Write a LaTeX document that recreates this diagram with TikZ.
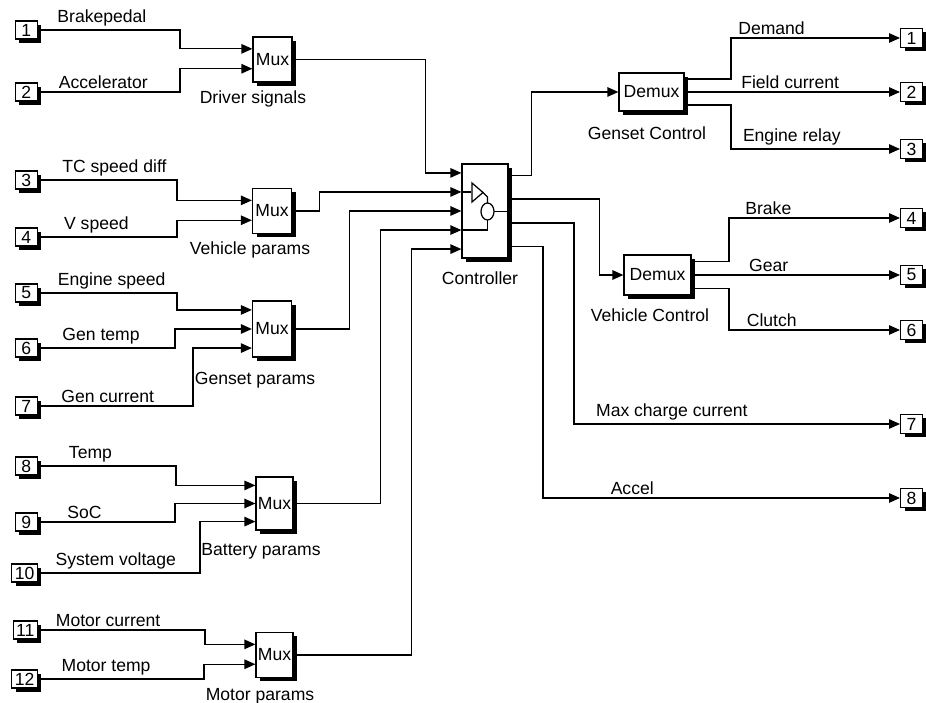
\documentclass[tikz,border=0pt]{standalone}
\usepackage{fontspec}
\setmainfont{Liberation Sans}
\usetikzlibrary{arrows.meta,calc,positioning,shadows}

\tikzset{
  sig/.style={line width=0.7pt},
  sigarrow/.style={sig, -{Triangle[length=2.2mm,width=1.9mm]}},
  blk/.style={draw, line width=0.7pt, fill=white, inner sep=0pt,
    drop shadow={shadow xshift=0.8mm, shadow yshift=-0.8mm, opacity=1, fill=black}},
  inport/.style={blk, anchor=east, minimum width=4.4mm, minimum height=3.6mm,
    inner xsep=0.6mm, font=\fontsize{10}{11}\selectfont},
  outport/.style={blk, anchor=west, minimum width=4.4mm, minimum height=3.8mm,
    inner xsep=0.6mm, font=\fontsize{10}{11}\selectfont},
  muxbox/.style={blk, minimum width=7.8mm, font=\fontsize{10}{12}\selectfont},
  demuxbox/.style={blk, minimum height=7.6mm, font=\fontsize{10}{12}\selectfont},
  blklabel/.style={inner sep=0pt, font=\fontsize{10}{12}\selectfont},
  siglabel/.style={above, inner sep=0.6mm, font=\fontsize{10}{12}\selectfont}
}

\begin{document}
\begin{tikzpicture}[x=0.2mm, y=-0.2mm]
  \useasboundingbox (0,0) rectangle (926,703);
  % input ports
  \foreach \n/\y in {1/30,2/92,3/180,4/237,5/293,6/348,7/406,8/466,9/522,10/573,11/630,12/679}
    \node[inport] (in\n) at (38,\y) {\n};
  % output ports
  \foreach \n/\y in {1/38,2/92,3/149,4/218,5/275,6/330,7/424,8/498}
    \node[outport] (out\n) at (900,\y) {\n};

  % mux blocks
  \node[muxbox, minimum height=9mm] (muxD) at (272.5,59.5) {Mux};
  \node[muxbox, minimum height=9mm] (muxV) at (272,211) {Mux};
  \node[muxbox, minimum height=11.2mm] (muxG) at (272,329) {Mux};
  \node[muxbox, minimum width=7.4mm, minimum height=10.6mm] (muxB) at (274.5,503.5) {Mux};
  \node[muxbox, minimum width=7.4mm, minimum height=9mm] (muxM) at (274.5,655) {Mux};
  \node[blklabel, below=1.6mm of muxD, xshift=-3.9mm] (lDriver) {Driver signals};
  \node[blklabel, below=1.5mm of muxV, xshift=-4.4mm] (lVehicle) {Vehicle params};
  \node[blklabel, below=2.8mm of muxG, xshift=-3.4mm] (lGenset) {Genset params};
  \node[blklabel, below=2.4mm of muxB, xshift=-2.7mm] (lBattery) {Battery params};
  \node[blklabel, below=1.9mm of muxM, xshift=-2.9mm] (lMotor) {Motor params};

  \coordinate (muxD-1) at ($(muxD.north west)!.27!(muxD.south west)$);
  \coordinate (muxD-2) at ($(muxD.north west)!.7!(muxD.south west)$);
  \coordinate (muxV-1) at ($(muxV.north west)!.27!(muxV.south west)$);
  \coordinate (muxV-2) at ($(muxV.north west)!.7!(muxV.south west)$);
  \coordinate (muxG-1) at ($(muxG.north west)!.1667!(muxG.south west)$);
  \coordinate (muxG-3) at ($(muxG.north west)!.8333!(muxG.south west)$);
  \coordinate (muxB-1) at ($(muxB.north west)!.1667!(muxB.south west)$);
  \coordinate (muxB-3) at ($(muxB.north west)!.8333!(muxB.south west)$);
  \coordinate (muxM-1) at ($(muxM.north west)!.27!(muxM.south west)$);
  \coordinate (muxM-2) at ($(muxM.north west)!.7!(muxM.south west)$);

  % controller
  \node[blk, minimum width=9.2mm, minimum height=18.8mm] (ctrl) at (485,211) {};
  \node[blklabel, below=2.6mm of ctrl, xshift=-1mm] (lCtrl) {Controller};
  \foreach \i/\f in {1/.1,2/.3,3/.5,4/.7,5/.9}
    \coordinate (ctrl-\i) at ($(ctrl.north west)!\f!(ctrl.south west)$);
  \foreach \i/\f in {1/.125,2/.375,3/.625,4/.875}
    \coordinate (ctrl-o\i) at ($(ctrl.north east)!\f!(ctrl.south east)$);
  % icon inside the controller
  \draw[sig] ($(ctrl)+(-13,-28)$) -- ++(0,19) -- ++(11,-9.5) -- cycle;
  \draw[sig] (ctrl-2) -- ++(10,0);
  \draw[sig] ($(ctrl)+(-2,-18.5)$) -- ++(4.5,4.5) -- ++(0,6);
  \draw[sig] ($(ctrl)+(2.5,0.5)$) ellipse (1.3mm and 1.7mm);
  \draw[sig] ($(ctrl)+(9,0.5)$) -- (ctrl.east |- {$(ctrl)+(9,0.5)$});
  \draw[sig] ($(ctrl)+(2.5,9)$) |- (ctrl-4);

  % demux blocks
  \node[demuxbox, minimum width=13mm] (demuxG) at (651.5,92) {Demux};
  \node[demuxbox, minimum width=13.4mm, minimum height=8mm] (demuxV) at (657.5,275) {Demux};
  \node[blklabel, below=2.9mm of demuxG, xshift=-0.9mm] (lGensetCtrl) {Genset Control};
  \node[blklabel, below=2.5mm of demuxV, xshift=-1.5mm] (lVehicleCtrl) {Vehicle Control};
  \coordinate (demuxG-1) at ($(demuxG.north east)!.1667!(demuxG.south east)$);
  \coordinate (demuxG-3) at ($(demuxG.north east)!.8333!(demuxG.south east)$);
  \coordinate (demuxV-1) at ($(demuxV.north east)!.1667!(demuxV.south east)$);
  \coordinate (demuxV-3) at ($(demuxV.north east)!.8333!(demuxV.south east)$);

  % inputs to the muxes
  \draw[sigarrow] (in1.east) -- node[siglabel,pos=.45]{Brakepedal} ++(142,0) |- (muxD-1);
  \draw[sigarrow] (in2.east) -- node[siglabel,pos=.46]{Accelerator} ++(142,0) |- (muxD-2);
  \draw[sigarrow] (in3.east) -- node[siglabel,pos=.55]{TC speed diff} ++(139,0) |- (muxV-1);
  \draw[sigarrow] (in4.east) -- node[siglabel,pos=.42]{V speed} ++(139,0) |- (muxV-2);
  \draw[sigarrow] (in5.east) -- node[siglabel,pos=.53]{Engine speed} ++(139,0) |- (muxG-1);
  \draw[sigarrow] (in6.east) -- node[siglabel,pos=.46]{Gen temp} ++(137,0) |- (muxG.west);
  \draw[sigarrow] (in7.east) -- node[siglabel,pos=.45]{Gen current} ++(155,0) |- (muxG-3);
  \draw[sigarrow] (in8.east) -- node[siglabel,pos=.38]{Temp} ++(138,0) |- (muxB-1);
  \draw[sigarrow] (in9.east) -- node[siglabel,pos=.34]{SoC} ++(137,0) |- (muxB.west);
  \draw[sigarrow] (in10.east) -- node[siglabel,pos=.48]{System voltage} ++(162,0) |- (muxB-3);
  \draw[sigarrow] (in11.east) -- node[siglabel,pos=.42]{Motor current} ++(167,0) |- (muxM-1);
  \draw[sigarrow] (in12.east) -- node[siglabel,pos=.41]{Motor temp} ++(166,0) |- (muxM-2);

  % muxes to the controller
  \draw[sigarrow] (muxD.east) -| ($(ctrl-1)+(-36,0)$) -- (ctrl-1);
  \draw[sigarrow] (muxV.east) -| ($(ctrl-2)+(-142,0)$) -- (ctrl-2);
  \draw[sigarrow] (muxG.east) -| ($(ctrl-3)+(-112,0)$) -- (ctrl-3);
  \draw[sigarrow] (muxB.east) -| ($(ctrl-4)+(-81,0)$) -- (ctrl-4);
  \draw[sigarrow] (muxM.east) -| ($(ctrl-5)+(-50,0)$) -- (ctrl-5);

  % controller outputs
  \draw[sigarrow] (ctrl-o1) -| ($(demuxG.west)+(-87,0)$) -- (demuxG.west);
  \draw[sigarrow] (ctrl-o2) -| ($(demuxV.west)+(-24,0)$) -- (demuxV.west);
  \draw[sigarrow] (ctrl-o3) -| ($(out7.west)+(-326,0)$)
    -- node[siglabel,pos=.30]{Max charge current} (out7.west);
  \draw[sigarrow] (ctrl-o4) -| ($(out8.west)+(-357,0)$)
    -- node[siglabel,pos=.25]{Accel} (out8.west);

  % demux outputs
  \draw[sigarrow] (demuxG-1) -| ($(out1.west)+(-169,0)$)
    -- node[siglabel,pos=.24]{Demand} (out1.west);
  \draw[sigarrow] (demuxG.east) -- node[siglabel,pos=.49]{Field current} (out2.west);
  \draw[sigarrow] (demuxG-3) -| ($(out3.west)+(-169,0)$)
    -- node[siglabel,pos=.36]{Engine relay} (out3.west);
  \draw[sigarrow] (demuxV-1) -| ($(out4.west)+(-171,0)$)
    -- node[siglabel,pos=.23]{Brake} (out4.west);
  \draw[sigarrow] (demuxV.east) -- node[siglabel,pos=.37]{Gear} (out5.west);
  \draw[sigarrow] (demuxV-3) -| ($(out6.west)+(-171,0)$)
    -- node[siglabel,pos=.25]{Clutch} (out6.west);
\end{tikzpicture}
\end{document}
